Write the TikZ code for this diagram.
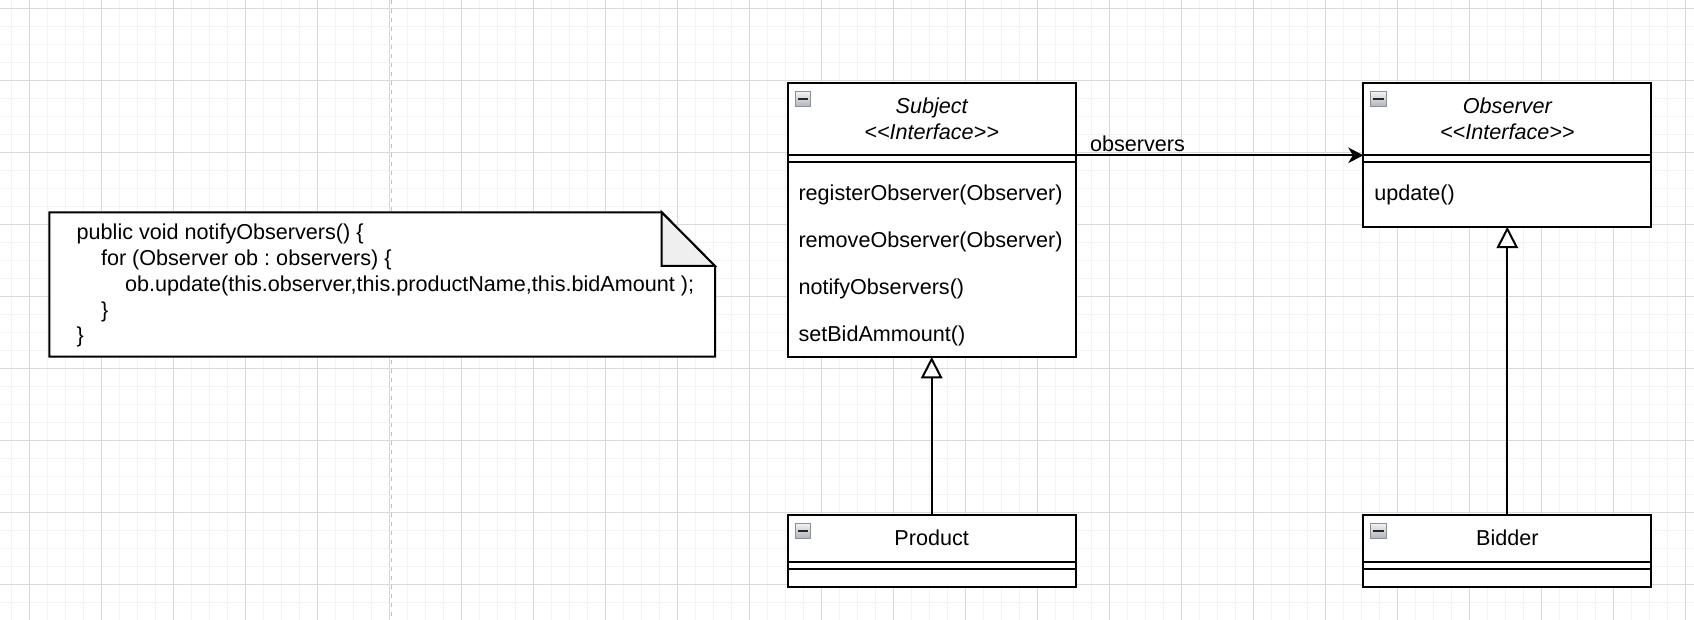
\documentclass[tikz,border=0pt]{standalone}
\usepackage{fontspec}
\newfontfamily\umlfont{Liberation Sans}
\usetikzlibrary{arrows.meta,calc}
\frenchspacing
\definecolor{gridmajor}{HTML}{D9D9D9}
\definecolor{gridminor}{HTML}{F3F3F3}
\definecolor{pagebreak}{HTML}{C2C2C2}
\definecolor{foldgray}{HTML}{EFEFEF}
\definecolor{iconborder}{HTML}{8C9098}
\definecolor{icontop}{HTML}{F4F4F6}
\definecolor{iconbottom}{HTML}{AEB2BA}
\begin{document}
\begin{tikzpicture}[x=1pt,y=-1pt,
  every node/.style={font=\umlfont\frenchspacing\fontsize{21.6}{25.9}\selectfont, inner sep=0pt, outer sep=0pt},
  umlclass/.style={draw=black, line width=2pt, fill=white, rectangle, anchor=north west, inner sep=0pt, outer sep=0pt, minimum width=288},
  rule/.style={line width=2pt},
  member/.style={anchor=base west},
  title/.style={anchor=base},
  ititle/.style={anchor=base, font=\umlfont\fontsize{21.6}{25.9}\selectfont\itshape},
  assoc/.style={line width=2pt, -{Stealth[length=15pt,width=15.5pt,inset=4.5pt]}},
  gen/.style={line width=2pt, -{Triangle[open,length=21.5pt,width=21.5pt]}},
  clsicon/.pic={
    \draw[iconborder, line width=1pt, top color=icontop, bottom color=iconbottom] (0,0) rectangle (15.5,15.5);
    \fill[black!85] (2.5,6.8) rectangle (13,8.8);
  }
]
% canvas
\useasboundingbox (0,0) rectangle (1694,620);
\fill[white] (0,0) rectangle (1694,620);
% grid
\foreach \i in {0,...,93} \draw[gridminor, line width=1pt] ({11.7+18*\i},0) -- ({11.7+18*\i},620);
\foreach \i in {0,...,34} \draw[gridminor, line width=1pt] (0,{8.3+18*\i}) -- (1694,{8.3+18*\i});
\foreach \i in {0,...,23} \draw[gridmajor, line width=1pt] ({29.7+72*\i},0) -- ({29.7+72*\i},620);
\foreach \i in {0,...,8} \draw[gridmajor, line width=1pt] (0,{8.3+72*\i}) -- (1694,{8.3+72*\i});
\draw[pagebreak, line width=1pt, dash pattern=on 4pt off 5pt] (391.7,0) -- (391.7,620);

% note
\node[anchor=north west, minimum width=665.7, minimum height=144.4] (note) at (49.3,212.3) {};
\coordinate (foldA) at ($(note.north east)+(-53.3,0)$);
\coordinate (foldB) at ($(note.north east)+(0,53.7)$);
\coordinate (foldC) at ($(note.north east)+(-53.3,53.7)$);
\draw[rule, fill=white] (note.north west) -- (foldA) -- (foldB) -- (note.south east) -- (note.south west) -- cycle;
\draw[rule, fill=foldgray] (foldA) -- (foldC) -- (foldB) -- cycle;
\node[member] (n1) at (76.7,239.3) {public void notifyObservers() \{};
\node[member] (n2) at (101,265.2) {for (Observer ob : observers) \{};
\node[member] (n3) at (125,291.1) {ob.update(this.observer,this.productName,this.bidAmount );};
\node[member] (n4) at (101,317.0) {\}};
\node[member] (n5) at (76.7,342.9) {\}};

% Subject
\node[umlclass, minimum height=273.6] (subject) at (787.7,83.3) {};
\pic at ($(subject.north west)+(7.5,8)$) {clsicon};
\node[ititle] (subjectT1) at (931.7,113.9) {Subject};
\node[ititle] (subjectT2) at (931.7,139.8) {<{}<Interface>{}>};
\draw[rule] ([yshift=-72pt]subject.north west) -- ([yshift=-72pt]subject.north east);
\draw[rule] ([yshift=-79.2pt]subject.north west) -- ([yshift=-79.2pt]subject.north east);
\node[member] (m1) at (798.5,200.6) {registerObserver(Observer)};
\node[member] (m2) at (798.5,247.4) {removeObserver(Observer)};
\node[member] (m3) at (798.5,294.2) {notifyObservers()};
\node[member] (m4) at (798.5,341.0) {setBidAmmount()};

% Observer
\node[umlclass, minimum height=143.4] (observer) at (1363.3,83.3) {};
\pic at ($(observer.north west)+(7.5,8)$) {clsicon};
\node[ititle] (observerT1) at (1507.3,113.9) {Observer};
\node[ititle] (observerT2) at (1507.3,139.8) {<{}<Interface>{}>};
\draw[rule] ([yshift=-72pt]observer.north west) -- ([yshift=-72pt]observer.north east);
\draw[rule] ([yshift=-79.2pt]observer.north west) -- ([yshift=-79.2pt]observer.north east);
\node[member] (u1) at (1374.3,200.6) {update()};

% Product
\node[umlclass, minimum height=72] (product) at (787.7,515) {};
\pic at ($(product.north west)+(7.5,8)$) {clsicon};
\node[title] (productT) at (931.7,545.9) {Product};
\draw[rule] ([yshift=-46.8pt]product.north west) -- ([yshift=-46.8pt]product.north east);
\draw[rule] ([yshift=-54pt]product.north west) -- ([yshift=-54pt]product.north east);

% Bidder
\node[umlclass, minimum height=72] (bidder) at (1363.3,515) {};
\pic at ($(bidder.north west)+(7.5,8)$) {clsicon};
\node[title] (bidderT) at (1507.3,545.9) {Bidder};
\draw[rule] ([yshift=-46.8pt]bidder.north west) -- ([yshift=-46.8pt]bidder.north east);
\draw[rule] ([yshift=-54pt]bidder.north west) -- ([yshift=-54pt]bidder.north east);

% association
\coordinate (assocS) at ([yshift=-72pt]subject.north east);
\coordinate (assocT) at ([yshift=-72pt]observer.north west);
\draw[assoc] (assocS) -- (assocT);
\node[anchor=base west] (assocL) at (1090,152) {observers};

% generalizations
\draw[gen] (product.north) -- (subject.south);
\draw[gen] (bidder.north) -- (observer.south);
\end{tikzpicture}
\end{document}
